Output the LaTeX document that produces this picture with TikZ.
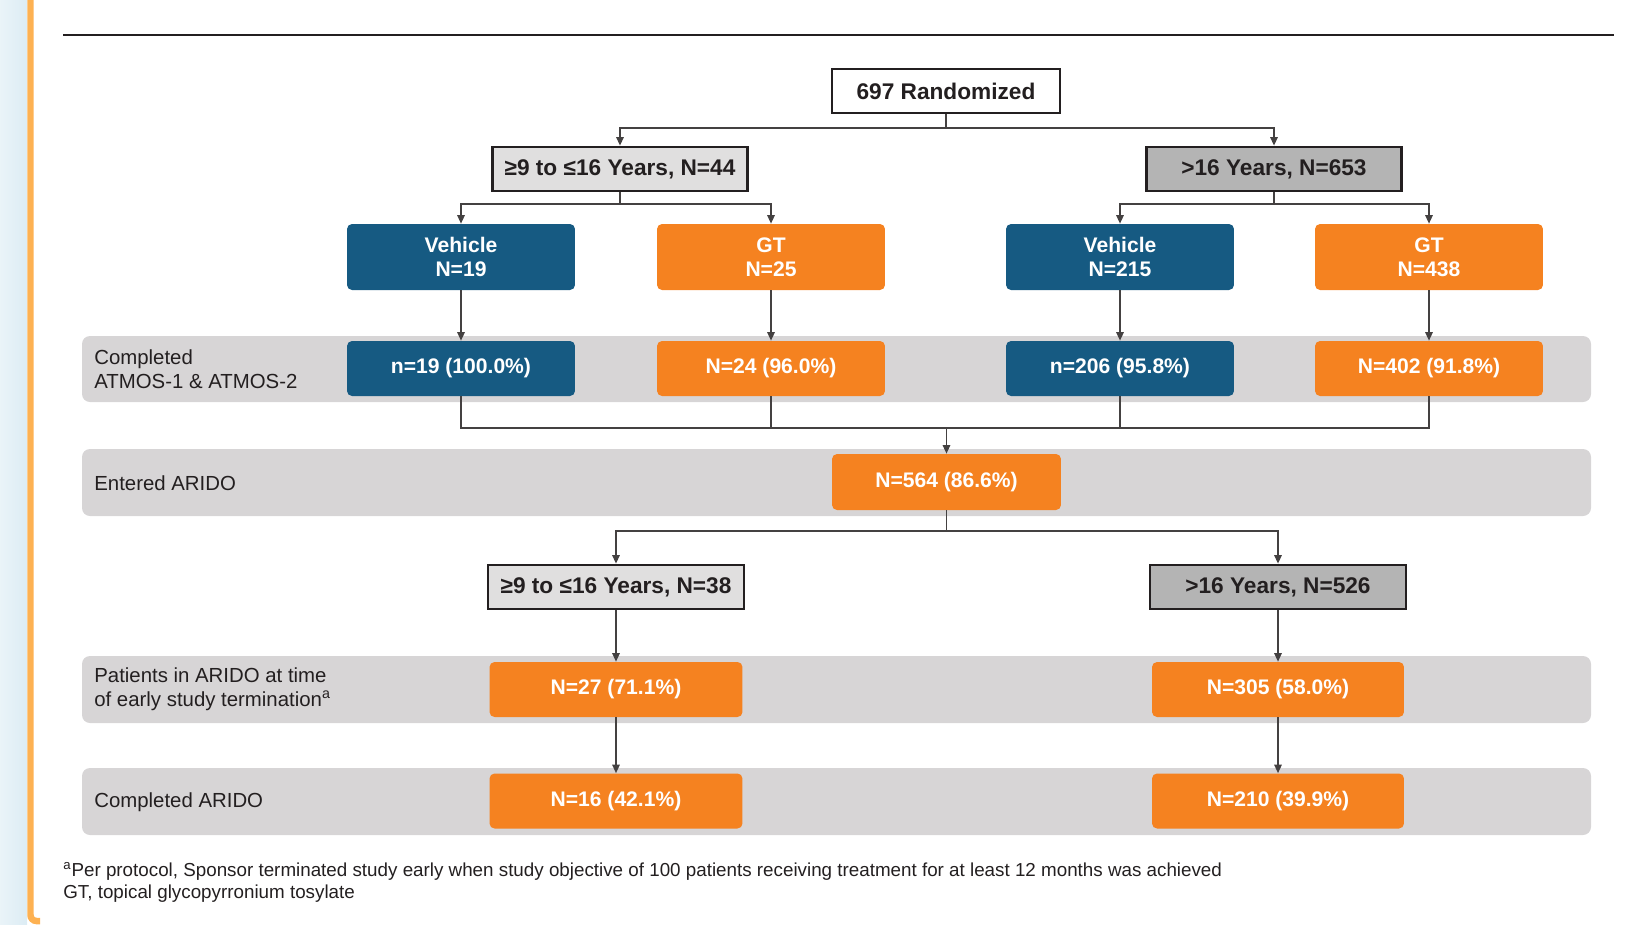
\documentclass[tikz,border=0pt]{standalone}
\usepackage{fontspec}
\setmainfont{Liberation Sans}
\usetikzlibrary{arrows.meta}

\definecolor{vehblue}{HTML}{165A82}
\definecolor{gtorange}{HTML}{F58220}
\definecolor{ageltgray}{HTML}{E0DFDF}
\definecolor{agedkgray}{HTML}{B4B4B4}
\definecolor{bandgray}{HTML}{D7D5D6}
\definecolor{framebar}{HTML}{FDB152}
\definecolor{stripblue}{HTML}{DCECF4}
\definecolor{inkgray}{HTML}{231F20}

\tikzset{
  agebox/.style={draw=inkgray, line width=1.6pt, minimum width=5.1cm, minimum height=0.88cm,
    inner sep=0pt, text=inkgray, font=\fontsize{12.9}{15}\selectfont\bfseries},
  armbox/.style={rounded corners=0.1cm, minimum width=4.56cm, inner sep=0pt, text=white,
    align=center, font=\fontsize{12}{13.7}\selectfont\bfseries},
  band/.style={fill=bandgray, rounded corners=0.16cm},
  bandlabel/.style={anchor=west, align=left, inner sep=0pt, text=inkgray, font=\fontsize{11.6}{13.7}\selectfont},
  conn/.style={draw=inkgray!85, line width=0.8pt},
  arr/.style={conn, -{Triangle[length=0.17cm,width=0.15cm]}},
}

\begin{document}
\begin{tikzpicture}[x=0.02cm, y=-0.02cm]
\useasboundingbox (0,0) rectangle (1634,924);

%枠
\shade[left color=stripblue!60, right color=stripblue] (0,0) rectangle (27,924);
\draw[framebar, line width=0.13cm, rounded corners=0.12cm] (30.5,-5) -- (30.5,921) -- (40,921);
\draw[inkgray, line width=0.05cm] (63,35) -- (1614,35);

%帯
\fill[band] (82,336) rectangle (1591,402);
\fill[band] (82,449) rectangle (1591,516);
\fill[band] (82,656) rectangle (1591,723);
\fill[band] (82,768) rectangle (1591,835);
\node[bandlabel] (lab1) at (94,369) {Completed\\ATMOS-1 \& ATMOS-2};
\node[bandlabel] (lab2) at (94,483) {Entered ARIDO};
\node[bandlabel] (lab3) at (94,689) {Patients in ARIDO at time\\of early study termination\textsuperscript{a}};
\node[bandlabel] (lab4) at (94,802) {Completed ARIDO};

%無作為化
\node[agebox, fill=white, minimum width=4.56cm] (rand) at (946,91) {697 Randomized};
\node[agebox, fill=ageltgray] (ageA) at (620,169) {≥9 to ≤16 Years, N=44};
\node[agebox, fill=agedkgray] (ageB) at (1274,169) {>16 Years, N=653};
\coordinate (s1) at (946,128);
\draw[conn] (rand) -- (s1);
\draw[arr] (s1) -| (ageA);
\draw[arr] (s1) -| (ageB);

%ATMOS
\node[armbox, fill=vehblue, minimum height=1.32cm] (va) at (461,257) {Vehicle\\N=19};
\node[armbox, fill=gtorange, minimum height=1.32cm] (ga) at (771,257) {GT\\N=25};
\node[armbox, fill=vehblue, minimum height=1.32cm] (vb) at (1120,257) {Vehicle\\N=215};
\node[armbox, fill=gtorange, minimum height=1.32cm] (gb) at (1429,257) {GT\\N=438};
\coordinate (sa) at (620,204);
\coordinate (sb) at (1274,204);
\draw[conn] (ageA) -- (sa);
\draw[arr] (sa) -| (va);
\draw[arr] (sa) -| (ga);
\draw[conn] (ageB) -- (sb);
\draw[arr] (sb) -| (vb);
\draw[arr] (sb) -| (gb);

\node[armbox, fill=vehblue, minimum height=1.1cm] (vac) at (461,368.5) {n=19 (100.0\%)};
\node[armbox, fill=gtorange, minimum height=1.1cm] (gac) at (771,368.5) {N=24 (96.0\%)};
\node[armbox, fill=vehblue, minimum height=1.1cm] (vbc) at (1120,368.5) {n=206 (95.8\%)};
\node[armbox, fill=gtorange, minimum height=1.1cm] (gbc) at (1429,368.5) {N=402 (91.8\%)};
\draw[arr] (va) -- (vac);
\draw[arr] (ga) -- (gac);
\draw[arr] (vb) -- (vbc);
\draw[arr] (gb) -- (gbc);

%ARIDO
\node[armbox, fill=gtorange, minimum width=4.58cm, minimum height=1.12cm] (ent) at (946.5,482) {N=564 (86.6\%)};
\coordinate (m1) at (946.5,428);
\draw[conn] (vac) |- (m1);
\draw[conn] (gac) |- (m1);
\draw[conn] (vbc) |- (m1);
\draw[conn] (gbc) |- (m1);
\draw[arr] (m1) -- (ent);

\node[agebox, fill=ageltgray, minimum width=5.12cm] (ageC) at (616,587) {≥9 to ≤16 Years, N=38};
\node[agebox, fill=agedkgray, minimum width=5.12cm] (ageD) at (1278,587) {>16 Years, N=526};
\coordinate (s2) at (946.5,531);
\draw[conn] (ent) -- (s2);
\draw[arr] (s2) -| (ageC);
\draw[arr] (s2) -| (ageD);

\node[armbox, fill=gtorange, minimum width=5.06cm, minimum height=1.1cm] (pC) at (616,689.5) {N=27 (71.1\%)};
\node[armbox, fill=gtorange, minimum width=5.04cm, minimum height=1.1cm] (pD) at (1278,689.5) {N=305 (58.0\%)};
\node[armbox, fill=gtorange, minimum width=5.06cm, minimum height=1.1cm] (cC) at (616,801) {N=16 (42.1\%)};
\node[armbox, fill=gtorange, minimum width=5.04cm, minimum height=1.1cm] (cD) at (1278,801) {N=210 (39.9\%)};
\draw[arr] (ageC) -- (pC);
\draw[arr] (ageD) -- (pD);
\draw[arr] (pC) -- (cC);
\draw[arr] (pD) -- (cD);

%注
\node[anchor=west, align=left, inner sep=0pt, text=inkgray, font=\fontsize{10.7}{12.5}\selectfont] (note) at (63,882)
  {\textsuperscript{a}Per protocol, Sponsor terminated study early when study objective of 100 patients receiving treatment for at least 12 months was achieved\\GT, topical glycopyrronium tosylate};
\end{tikzpicture}
\end{document}
